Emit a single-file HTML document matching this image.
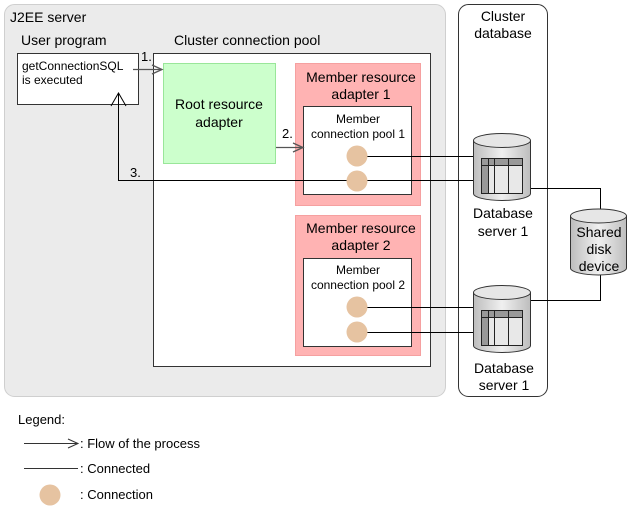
<!DOCTYPE html>
<html><head><meta charset="utf-8"><style>body{margin:0;background:#fff}svg{display:block}text{font-family:"Liberation Sans",sans-serif;fill:#000}</style></head><body>
<svg width="636" height="511" viewBox="0 0 636 511" xmlns="http://www.w3.org/2000/svg">
<defs>
<linearGradient id="cg" x1="0" x2="1"><stop offset="0" stop-color="#bdbdbd"/><stop offset="0.5" stop-color="#f0f0f0"/><stop offset="1" stop-color="#bdbdbd"/></linearGradient>
<g id="db">
<path d="M0,7 L0,60 A28.5,7 0 0 0 57,60 L57,7" fill="url(#cg)" stroke="#333"/>
<ellipse cx="28.5" cy="7" rx="28.5" ry="7" fill="#e6e6e6" stroke="#333"/>
<rect x="8" y="25" width="41" height="35" fill="#e8e8e8" stroke="#222"/>
<rect x="8" y="25" width="41" height="7" fill="#999" stroke="#222"/>
<rect x="8" y="25" width="7" height="35" fill="#999" stroke="#222"/>
<line x1="21" y1="25" x2="21" y2="60" stroke="#222"/><line x1="35" y1="25" x2="35" y2="60" stroke="#222"/>
<line x1="8" y1="32" x2="49" y2="32" stroke="#222"/>
</g>
</defs>
<rect x="4.5" y="4.5" width="441" height="392" rx="10" fill="#ebebeb" stroke="#cfcfcf"/>
<text x="10" y="22" font-size="14">J2EE server</text>
<text x="21" y="45" font-size="14">User program</text>
<text x="174" y="45" font-size="14">Cluster connection pool</text>
<rect x="17.5" y="53.5" width="121" height="51" fill="#fff" stroke="#333"/>
<text x="22" y="70" font-size="12">getConnectionSQL</text>
<text x="22" y="84" font-size="12">is executed</text>
<rect x="153.5" y="53.5" width="277" height="313" fill="#fff" stroke="#333"/>
<rect x="163.5" y="63.5" width="112" height="100" fill="#ccffcc" stroke="#99e699"/>
<text x="219" y="109" font-size="14" text-anchor="middle">Root resource</text>
<text x="219" y="127" font-size="14" text-anchor="middle">adapter</text>
<rect x="295.5" y="63.5" width="125" height="142" fill="#ffb3b3" stroke="#f5a0a0"/>
<text x="361" y="82" font-size="14" text-anchor="middle">Member resource</text>
<text x="361" y="99" font-size="14" text-anchor="middle">adapter 1</text>
<rect x="303.5" y="106.5" width="108" height="88" fill="#fff" stroke="#333"/>
<text x="358" y="123" font-size="12" text-anchor="middle">Member</text>
<text x="358" y="138" font-size="12" text-anchor="middle">connection pool 1</text>
<rect x="295.5" y="215.5" width="125" height="140" fill="#ffb3b3" stroke="#f5a0a0"/>
<text x="361" y="233" font-size="14" text-anchor="middle">Member resource</text>
<text x="361" y="250" font-size="14" text-anchor="middle">adapter 2</text>
<rect x="303.5" y="258.5" width="108" height="88" fill="#fff" stroke="#333"/>
<text x="358" y="274" font-size="12" text-anchor="middle">Member</text>
<text x="358" y="289" font-size="12" text-anchor="middle">connection pool 2</text>
<rect x="458.5" y="4.5" width="89" height="392" rx="10" fill="#fff" stroke="#333"/>
<text x="503" y="21" font-size="14" text-anchor="middle">Cluster</text>
<text x="503" y="38" font-size="14" text-anchor="middle">database</text>
<g stroke="#000" fill="none">
<line x1="367" y1="156.5" x2="473" y2="156.5"/>
<polyline points="473,180.5 118.5,180.5 118.5,93"/>
<polyline points="111,106 118.5,93 126,106"/>
<line x1="367" y1="307.5" x2="473" y2="307.5"/>
<line x1="367" y1="332.5" x2="473" y2="332.5"/>
<polyline points="530,188.5 600.5,188.5 600.5,212"/>
<polyline points="530,300.5 600.5,300.5 600.5,272"/>
</g>
<g stroke="#555" stroke-width="1.3" fill="none">
<line x1="133" y1="69.5" x2="162" y2="69.5"/><polyline points="152,65 162,69.5 152,74"/>
<line x1="276" y1="147.5" x2="303" y2="147.5"/><polyline points="293,143 303,147.5 293,152"/>
</g>
<text x="141" y="61" font-size="13">1.</text>
<text x="282" y="138" font-size="13">2.</text>
<text x="130" y="177" font-size="13">3.</text>
<g fill="#e6c3a1"><circle cx="357" cy="156" r="10.5"/><circle cx="357" cy="181" r="10.5"/><circle cx="357" cy="307" r="10.5"/><circle cx="357" cy="332" r="10.5"/></g>
<use href="#db" x="473.5" y="133.5"/>
<use href="#db" x="473.5" y="285.5"/>
<text x="503" y="218" font-size="14" text-anchor="middle">Database</text>
<text x="503" y="236" font-size="14" text-anchor="middle">server 1</text>
<text x="504" y="373" font-size="14" text-anchor="middle">Database</text>
<text x="504" y="390" font-size="14" text-anchor="middle">server 1</text>
<path d="M570.5,216 L570.5,268 A28,7 0 0 0 626.5,268 L626.5,216" fill="url(#cg)" stroke="#333"/>
<ellipse cx="598.5" cy="216" rx="28" ry="7" fill="#e6e6e6" stroke="#333"/>
<text x="599" y="237" font-size="14" text-anchor="middle">Shared</text>
<text x="599" y="254" font-size="14" text-anchor="middle">disk</text>
<text x="599" y="271" font-size="14" text-anchor="middle">device</text>
<text x="18" y="424" font-size="13">Legend:</text>
<line x1="24" y1="443.5" x2="78" y2="443.5" stroke="#333"/><polyline points="68,439 78,443.5 68,448" stroke="#333" fill="none"/>
<text x="80" y="448" font-size="13">: Flow of the process</text>
<line x1="24" y1="468.5" x2="78" y2="468.5" stroke="#333"/>
<text x="80" y="473" font-size="13">: Connected</text>
<circle cx="50" cy="495" r="10.5" fill="#e6c3a1"/>
<text x="80" y="499" font-size="13">: Connection</text>
</svg>
</body></html>
